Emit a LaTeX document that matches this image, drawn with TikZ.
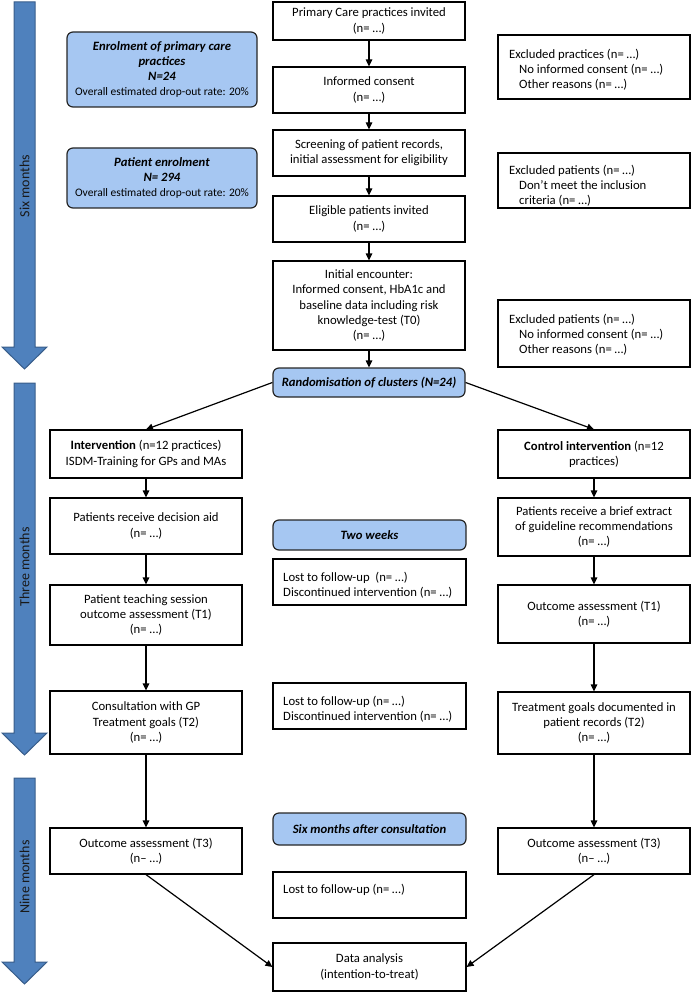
\documentclass[tikz,border=0pt]{standalone}
\usepackage{fontspec}
\setmainfont{Carlito}
\usetikzlibrary{arrows.meta}
\definecolor{lblue}{RGB}{166,199,242}
\definecolor{dblue}{RGB}{79,129,189}
\definecolor{dbord}{RGB}{56,93,138}
\newcommand\fs{\fontsize{12.7}{15.2}\selectfont}
\newcommand\sfs{\fontsize{11.5}{13}\selectfont}
\newcommand\mybox[7]{%
  \node[#1, minimum width={(#5-#3)*1pt}, minimum height={(#6-#4)*1pt}] (#2) at ({(#3+#5)/2},{(#4+#6)/2}) {#7};}
\newcommand\bi[1]{\textbf{\textit{#1}}}
\newcommand\ind{\hspace*{10pt}}
\begin{document}
\begin{tikzpicture}[x=1pt,y=-1pt,
  box/.style={draw=black, line width=1.2pt, fill=white, inner sep=1pt, align=center, font=\fs},
  bluebox/.style={box, fill=lblue, draw=black!85, rounded corners=6pt},
  txt/.style={inner sep=0pt, align=left, font=\fs, anchor=west},
  arr/.style={line width=1.2pt, -{Triangle[length=7pt,width=6.5pt]}},
  bigarrow/.style={fill=dblue, draw=dbord, line width=1pt},
  arrlabel/.style={rotate=90, font=\fontsize{14}{16}\selectfont, text=black!90}]
\useasboundingbox (0,0) rectangle (692,992);
% big time arrows
\draw[bigarrow] (14,2) -- (35,2) -- (35,347) -- (47,347) -- (24.5,369) -- (2,347) -- (14,347) -- cycle;
\node[arrlabel] (lab1) at (24.5,186) {Six months};
\draw[bigarrow] (14,383) -- (35,383) -- (35,733) -- (47,733) -- (24.5,755) -- (2,733) -- (14,733) -- cycle;
\node[arrlabel] (lab2) at (24.5,567) {Three months};
\draw[bigarrow] (14,778) -- (35,778) -- (35,962) -- (47,962) -- (24.5,984) -- (2,962) -- (14,962) -- cycle;
\node[arrlabel] (lab3) at (24.5,877) {Nine months};
% left blue boxes
\mybox{bluebox}{e1}{67}{32}{257}{107}{\bi{Enrolment of primary care}\\\bi{practices}\\\bi{N=24}\\{\sfs Overall estimated drop-out rate: 20\%}}
\mybox{bluebox}{e2}{67}{148}{257}{208}{\bi{Patient enrolment}\\\bi{N= 294}\\{\sfs Overall estimated drop-out rate: 20\%}}
% center column
\mybox{box}{b1}{273}{2}{465}{40}{Primary Care practices invited\\(n= …)}
\mybox{box}{b2}{273}{67}{465}{113}{Informed consent\\(n= …)}
\mybox{box}{b3}{273}{130}{465}{176}{Screening of patient records,\\initial assessment for eligibility}
\mybox{box}{b4}{273}{196}{465}{242}{Eligible patients invited\\(n= …)}
\mybox{box}{b5}{273}{261}{465}{350}{Initial encounter:\\Informed consent, HbA1c and\\baseline data including risk\\knowledge-test (T0)\\(n= …)}
\mybox{bluebox}{rand}{273}{368}{465}{397}{\bi{Randomisation of clusters (N=24)}}
% exclusion boxes
\mybox{box}{x1}{498}{35}{690}{99}{}
\node[txt] (x1t) at (509,70) {Excluded practices (n= …)\\\ind No informed consent (n= …)\\\ind Other reasons (n= …)};
\mybox{box}{x2}{498}{153}{690}{208}{}
\node[txt] (x2t) at (509,186) {Excluded patients (n= …)\\\ind Don’t meet the inclusion\\\ind criteria (n= …)};
\mybox{box}{x3}{498}{300}{690}{367}{}
\node[txt] (x3t) at (509,335) {Excluded patients (n= …)\\\ind No informed consent (n= …)\\\ind Other reasons (n= …)};
% intervention column
\mybox{box}{i1}{50}{430}{242}{478}{\textbf{Intervention} (n=12 practices)\\ISDM-Training for GPs and MAs}
\mybox{box}{i2}{50}{498}{242}{554}{Patients receive decision aid\\(n= …)}
\mybox{box}{i3}{50}{585}{242}{645}{Patient teaching session\\outcome assessment (T1)\\(n= …)}
\mybox{box}{i4}{50}{691}{242}{754}{Consultation with GP\\Treatment goals (T2)\\(n= …)}
\mybox{box}{i5}{50}{828}{242}{874}{Outcome assessment (T3)\\(n– …)}
% control column
\mybox{box}{c1}{498}{430}{690}{478}{\textbf{Control intervention} (n=12\\practices)}
\mybox{box}{c2}{498}{498}{690}{556}{Patients receive a brief extract\\of guideline recommendations\\(n= …)}
\mybox{box}{c3}{498}{585}{690}{643}{Outcome assessment (T1)\\(n= …)}
\mybox{box}{c4}{498}{692}{690}{754}{Treatment goals documented in\\patient records (T2)\\(n= …)}
\mybox{box}{c5}{498}{828}{690}{874}{Outcome assessment (T3)\\(n– …)}
% middle column
\mybox{bluebox}{tw}{273}{520}{466}{550}{\bi{Two weeks}}
\mybox{box}{l1}{273}{559}{466}{605}{}
\node[txt] (l1t) at (283,585) {Lost to follow-up\ \ (n= …)\\Discontinued intervention (n= …)};
\mybox{box}{l2}{273}{683}{466}{729}{}
\node[txt] (l2t) at (283,709) {Lost to follow-up (n= …)\\Discontinued intervention (n= …)};
\mybox{bluebox}{sm}{273}{813}{466}{845}{\bi{Six months after consultation}}
\mybox{box}{l3}{273}{872}{466}{918}{}
\node[txt] (l3t) at (283,890) {Lost to follow-up (n= …)};
\mybox{box}{da}{273}{943}{466}{991}{Data analysis\\(intention-to-treat)}
% connectors
\draw[arr] (b1) -- (b2);
\draw[arr] (b2) -- (b3);
\draw[arr] (b3) -- (b4);
\draw[arr] (b4) -- (b5);
\draw[arr] (b5) -- (rand);
\draw[arr] (rand.west) -- (i1.north);
\draw[arr] (rand.east) -- (c1.north);
\draw[arr] (i1) -- (i2);
\draw[arr] (i2) -- (i3);
\draw[arr] (i3) -- (i4);
\draw[arr] (i4) -- (i5);
\draw[arr] (c1) -- (c2);
\draw[arr] (c2) -- (c3);
\draw[arr] (c3) -- (c4);
\draw[arr] (c4) -- (c5);
\draw[arr] (i5.south) -- (da.west);
\draw[arr] (c5.south) -- (da.east);
\end{tikzpicture}
\end{document}
